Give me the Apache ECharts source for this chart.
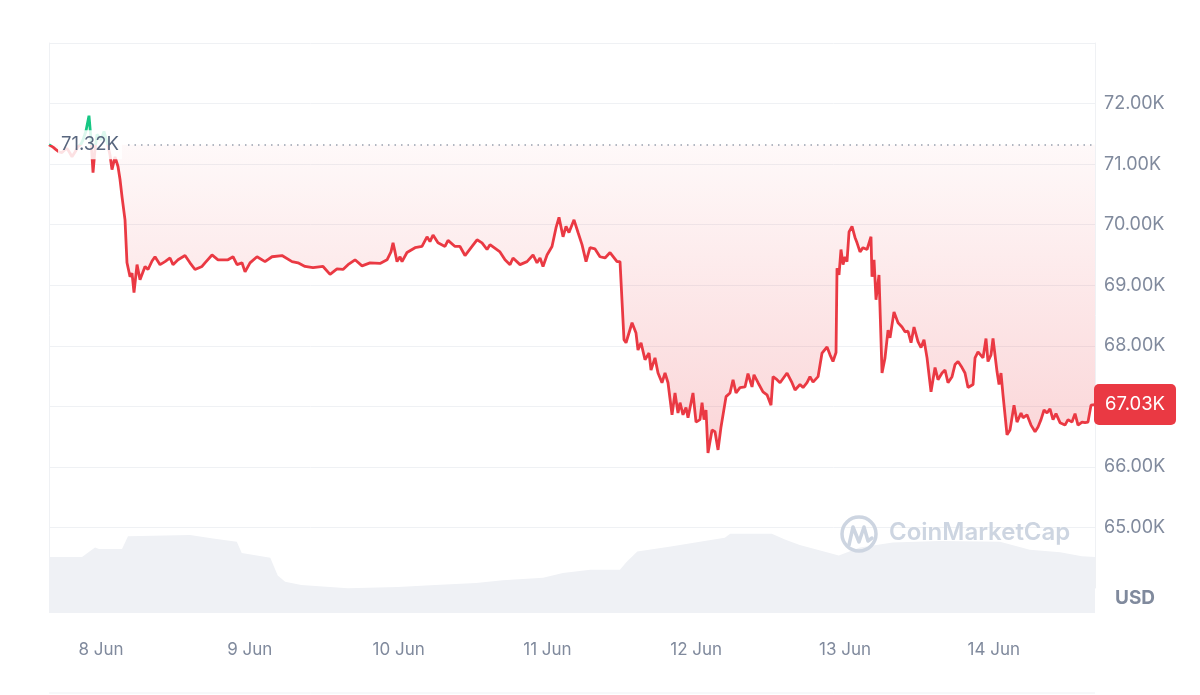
<!DOCTYPE html>
<html><head><meta charset="utf-8">
<script src="https://cdn.jsdelivr.net/npm/echarts@6/dist/echarts.min.js"></script>
<style>html,body{margin:0;padding:0;background:#fff}#c{width:1200px;height:695px}</style>
</head><body><div id="c"></div>
<script>
// time in hours from 8 Jun 00:00
const hours = [-8.39,-7.74,-7.26,-6.77,-6.29,-5.81,-5.48,-5.00,-4.68,-4.19,-3.71,-3.23,-2.90,-2.42,-1.94,-1.61,-1.29,-0.97,-0.65,-0.32,0,0.48,0.97,1.45,1.77,2.26,2.74,3.06,3.39,3.87,4.19,4.68,5.00,5.32,5.81,6.29,7.10,7.58,8.23,8.71,9.52,10.32,11.13,11.61,12.42,13.55,14.35,15.16,16.29,16.77,17.90,18.87,20.48,21.29,21.94,22.74,23.23,24.03,25.16,26.45,27.58,29.19,30.81,31.77,32.90,34.19,35.81,36.94,38.06,39.03,39.84,40.97,42.10,43.39,45.00,46.13,46.77,47.10,47.42,47.74,48.23,48.55,49.35,50.65,51.77,52.58,53.06,53.55,54.35,55.48,55.97,57.10,57.90,58.71,59.84,60.65,61.45,62.26,62.74,64.35,65.16,65.97,66.45,67.58,68.71,69.68,70.32,70.81,71.29,71.94,72.74,73.39,73.87,74.52,75.00,75.48,76.29,76.94,77.58,78.23,78.87,79.68,80.48,81.29,82.10,83.23,83.71,84.35,84.68,85.65,86.29,86.61,87.10,87.74,88.39,88.71,89.35,89.84,90.48,90.97,91.45,92.10,92.58,93.06,93.39,93.87,94.35,94.68,95.48,95.97,96.61,96.94,97.26,97.58,97.90,98.55,99.03,99.52,100.00,100.32,100.81,101.45,101.94,102.42,103.06,103.87,104.35,105.00,105.32,105.97,106.77,107.42,108.06,108.39,109.03,109.52,110.65,111.45,111.94,112.74,113.23,113.87,114.35,114.84,115.65,116.29,117.10,117.58,118.06,118.55,118.71,119.03,119.35,119.68,120.00,120.32,120.65,121.13,121.61,121.94,122.42,122.90,123.55,124.19,124.35,124.68,125.00,125.48,125.97,126.45,126.94,127.26,127.90,128.55,129.19,129.68,130.16,130.65,131.13,131.77,132.26,132.74,133.23,133.87,134.52,135.00,135.65,136.13,136.61,137.26,137.74,138.23,138.87,139.35,139.84,140.65,140.97,141.45,142.26,142.74,143.06,143.55,143.87,144.52,144.84,145.16,145.48,146.13,146.61,147.26,147.74,148.39,148.71,149.35,150.00,150.65,151.13,151.61,152.10,152.58,153.06,153.55,154.03,154.68,155.48,155.97,156.61,157.10,157.58,158.23,158.71,159.19,159.68,160.32];
// BTC price, thousands of USD
const prices = [71.32,71.28,71.24,71.20,71.19,71.24,71.26,71.18,71.12,71.20,71.29,71.33,71.40,71.55,71.80,71.40,70.86,71.24,71.49,71.45,71.40,71.54,71.37,71.15,70.91,71.12,70.96,70.75,70.46,70.08,69.37,69.14,69.20,68.88,69.34,69.09,69.31,69.26,69.40,69.47,69.34,69.39,69.45,69.34,69.42,69.49,69.37,69.26,69.31,69.37,69.50,69.42,69.42,69.47,69.34,69.37,69.22,69.37,69.47,69.39,69.47,69.49,69.39,69.37,69.31,69.29,69.31,69.18,69.27,69.26,69.34,69.42,69.32,69.37,69.36,69.42,69.55,69.70,69.55,69.39,69.47,69.39,69.54,69.62,69.64,69.80,69.72,69.83,69.70,69.64,69.74,69.64,69.64,69.49,69.64,69.75,69.70,69.59,69.67,69.55,69.42,69.34,69.45,69.34,69.39,69.50,69.37,69.45,69.31,69.50,69.64,69.95,70.12,69.80,69.97,69.87,70.08,69.87,69.67,69.39,69.62,69.60,69.47,69.45,69.54,69.39,69.39,68.10,68.05,68.38,68.21,67.93,68.05,67.77,67.88,67.60,67.80,67.55,67.39,67.55,67.39,66.86,67.22,66.89,67.06,66.86,66.98,66.81,67.22,66.74,66.78,67.06,66.78,66.94,66.23,66.61,66.58,66.28,66.66,66.69,67.16,67.22,67.44,67.22,67.31,67.32,67.54,67.32,67.52,67.39,67.24,67.19,67.02,67.49,67.44,67.39,67.55,67.39,67.27,67.36,67.31,67.39,67.49,67.40,67.49,67.88,67.98,67.85,67.74,67.89,69.28,69.17,69.59,69.34,69.47,69.39,69.88,69.97,69.79,69.70,69.55,69.62,69.59,69.80,69.14,69.42,68.76,69.17,67.55,67.80,68.26,68.13,68.56,68.38,68.31,68.23,68.24,68.05,68.31,68.07,67.97,68.10,67.80,67.24,67.64,67.44,67.55,67.60,67.39,67.49,67.69,67.74,67.64,67.55,67.31,67.36,67.80,67.90,67.80,68.12,67.74,67.85,68.12,67.57,67.36,67.55,67.19,66.53,66.61,67.02,66.74,66.89,66.81,66.86,66.69,66.58,66.66,66.78,66.94,66.89,66.96,66.78,66.88,66.73,66.69,66.78,66.74,66.88,66.69,66.74,66.73,66.74,67.02,67.03];
// volume (relative units, 0-100)
const volHours = [-8.39,-3.06,-0.97,-0.32,3.39,4.35,14.35,18.06,21.9,22.7,27.3,28.5,29.7,32.3,39.8,47.9,53.9,60.5,64.8,71.3,74.5,78.9,83.7,84.8,86.5,91.9,96.6,100.6,101.5,108.2,110.3,112.7,116.0,119.0,122.4,127.7,135.3,145.0,149.8,154.7,158.2,160.32];
const volValues = [70,70,82,80,80,96,97.5,93,89,75,69,47,39,35,31,32.5,35,37.5,41,44,50,54,54,64,77,83,89,94,99,99,92,85,78,72,82,88,90,89,79,76,71,70];
const dayHours = [0,24,48,72,96,120,144];
const dayLabels = ['8 Jun','9 Jun','10 Jun','11 Jun','12 Jun','13 Jun','14 Jun'];
const yTicks = [64,65,66,67,68,69,70,71,72,73];
const openPrice = 71.32;
const lastPrice = 67.03;

const FONT = 'Inter, "Noto Sans", sans-serif';
const AXIS_COLOR = '#808a9d';
const GRID_COLOR = '#eff1f4';
const xMin = hours[0], xMax = hours[hours.length - 1];

const chart = echarts.init(document.getElementById('c'));
chart.setOption({
  animation: false,
  backgroundColor: '#fff',
  textStyle: { fontFamily: FONT },
  grid: [
    { left: 49, right: 105, top: 43, bottom: 107 },
    { left: 49, right: 105, top: 533, bottom: 82 }
  ],
  xAxis: [
    { gridIndex: 0, type: 'value', min: xMin, max: xMax, show: false },
    { gridIndex: 1, type: 'value', min: xMin, max: xMax,
      axisLine: { show: false }, axisTick: { show: false }, splitLine: { show: false },
      axisLabel: { customValues: dayHours, margin: 28, color: AXIS_COLOR, fontSize: 17, fontFamily: FONT,
        formatter: v => dayLabels[dayHours.indexOf(Math.round(v))] || '' } }
  ],
  yAxis: [
    { gridIndex: 0, type: 'value', position: 'right', min: 64, max: 73, interval: 1,
      axisLine: { show: true, onZero: false, lineStyle: { color: GRID_COLOR } }, axisTick: { show: false },
      splitLine: { show: true, lineStyle: { color: yTicks.map(v => v === 64 ? 'rgba(0,0,0,0)' : GRID_COLOR), width: 1 } },
      axisLabel: { margin: 9, color: AXIS_COLOR, fontSize: 18, fontFamily: FONT,
        formatter: v => (v === 64 || v === 73) ? '' : v.toFixed(2) + 'K' } },
    { gridIndex: 0, type: 'value', position: 'left', min: 64, max: 73,
      axisLine: { show: true, onZero: false, lineStyle: { color: GRID_COLOR } }, axisTick: { show: false },
      axisLabel: { show: false }, splitLine: { show: false } },
    { gridIndex: 1, type: 'value', min: 0, max: 100, show: false }
  ],
  visualMap: {
    show: false, type: 'piecewise', seriesIndex: 0, dimension: 1,
    pieces: [
      { gt: 60, lte: openPrice, color: '#ea3943' },
      { gt: openPrice, lte: 80, color: '#16c784' }
    ]
  },
  series: [
    {
      type: 'line', xAxisIndex: 0, yAxisIndex: 0,
      data: hours.map((h, i) => [h, prices[i]]),
      symbol: 'none', z: 3,
      lineStyle: { width: 2.8 },
      areaStyle: {
        origin: openPrice,
        color: new echarts.graphic.LinearGradient(0, 0, 0, 1, [
          { offset: 0, color: 'rgba(234,57,67,0.02)' },
          { offset: 1, color: 'rgba(234,57,67,0.30)' }
        ])
      },
      markLine: {
        silent: true, symbol: 'none', z: 6,
        lineStyle: { type: [1.5, 5], width: 1.5, color: '#98a0ae' },
        data: [
          [
            { coord: [4.35, openPrice],
              lineStyle: { type: [1.5, 5], width: 1.5, color: '#98a0ae', opacity: 1 },
              label: { show: true, position: 'start', distance: 6, formatter: '71.32K',
                color: '#58667e', fontSize: 18.5, fontFamily: FONT,
                backgroundColor: 'rgba(255,255,255,0.85)', padding: [5, 3] } },
            { coord: [xMax, openPrice] }
          ],
          [
            { coord: [xMax - 0.5, lastPrice],
              lineStyle: { width: 1, color: 'rgba(0,0,0,0)' },
              label: { show: true, position: 'end', distance: -1, formatter: '67.03K',
                color: '#ffffff', fontSize: 18.5, fontFamily: FONT,
                backgroundColor: '#ea3943', borderRadius: 5, padding: [11, 11] } },
            { coord: [xMax, lastPrice] }
          ]
        ]
      }
    },
    {
      type: 'line', xAxisIndex: 1, yAxisIndex: 2,
      data: volHours.map((h, i) => [h, volValues[i]]),
      symbol: 'none', z: 4,
      lineStyle: { width: 0 },
      itemStyle: { color: '#eff1f5' },
      areaStyle: { color: '#eff1f5', opacity: 1 }
    }
  ],
  graphic: [
    { type: 'text', left: 1115, top: 589, z: 10,
      style: { text: 'USD', fill: AXIS_COLOR, font: 'bold 19px ' + FONT } },
    { type: 'line', z: 1, shape: { x1: 49, y1: 693, x2: 1095, y2: 693 },
      style: { stroke: GRID_COLOR, lineWidth: 1 } },
    { type: 'circle', z: 10, shape: { cx: 859, cy: 534, r: 17 },
      style: { fill: 'none', stroke: '#cdd5e1', lineWidth: 3.5 } },
    { type: 'polyline', z: 10, shape: { points: [[849, 545], [853, 527], [859, 542], [864, 527], [868, 541], [872, 538]] },
      style: { fill: 'none', stroke: '#cdd5e1', lineWidth: 3.5, lineJoin: 'round', lineCap: 'round' } },
    { type: 'text', left: 889, top: 521, z: 10,
      style: { text: 'CoinMarketCap', fill: '#cdd5e1', font: '600 24px ' + FONT } }
  ]
});
</script>
</body></html>
